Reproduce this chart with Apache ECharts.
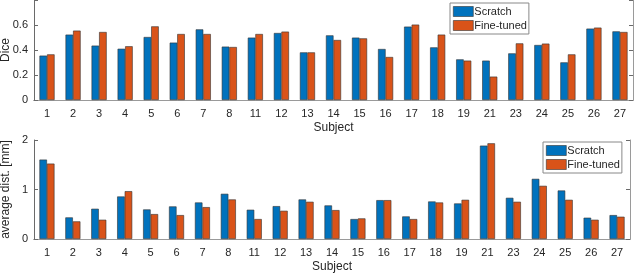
<!DOCTYPE html>
<html><head><meta charset="utf-8">
<script src="https://cdn.jsdelivr.net/npm/echarts@6/dist/echarts.min.js"></script>
<style>html,body{margin:0;padding:0;background:#fff}#c{width:640px;height:274px}</style>
</head><body><div id="c"></div>
<script>
const subjects = ['1','2','3','4','5','6','7','8','11','12','13','14','15','16','17','18','19','21','23','24','25','26','27'];
const diceScratch = [0.355,0.523,0.435,0.41,0.504,0.459,0.565,0.427,0.499,0.536,0.381,0.517,0.499,0.408,0.587,0.421,0.325,0.315,0.373,0.44,0.301,0.571,0.549];
const diceFine    = [0.365,0.555,0.544,0.43,0.589,0.528,0.528,0.424,0.528,0.547,0.381,0.48,0.493,0.344,0.603,0.523,0.315,0.187,0.453,0.451,0.365,0.579,0.544];
const distScratch = [1.604,0.436,0.611,0.859,0.597,0.658,0.738,0.913,0.591,0.664,0.799,0.678,0.403,0.785,0.456,0.758,0.718,1.886,0.832,1.215,0.98,0.43,0.483];
const distFine    = [1.523,0.356,0.389,0.966,0.503,0.483,0.644,0.799,0.403,0.57,0.752,0.584,0.416,0.785,0.403,0.738,0.792,1.933,0.752,1.074,0.792,0.389,0.45];
const seriesNames = ['Scratch','Fine-tuned'];

const axisCol = '#6a6a6a';
const boxCol = '#9a9a9a';
const font = 'Liberation Sans, Arial, Helvetica, sans-serif';
const lab = {color:'#262626', fontSize:11, fontFamily:font};

function xAxes(gi){
  return [
    {type:'category', gridIndex:gi, data:subjects, position:'bottom',
     axisLine:{lineStyle:{color:axisCol,width:1}},
     axisTick:{inside:true, alignWithLabel:true, length:4, lineStyle:{color:axisCol}},
     axisLabel:Object.assign({margin:8}, lab),
     name:'Subject', nameLocation:'middle', nameGap:22, nameMoveOverlap:false,
     nameTextStyle:{color:'#262626', fontSize:12, fontFamily:font}},
    {type:'category', gridIndex:gi, data:subjects, position:'top',
     axisLine:{lineStyle:{color:boxCol,width:1}},
     axisTick:{inside:true, alignWithLabel:true, length:4, lineStyle:{color:axisCol}},
     axisLabel:{show:false}}
  ];
}
function yAxes(gi, max, interval, name, hideTop){
  return [
    {type:'value', gridIndex:gi, min:0, max:max, interval:interval, position:'left',
     splitLine:{show:false},
     axisLine:{show:true, lineStyle:{color:axisCol,width:1}},
     axisTick:{show:true, inside:true, length:4, lineStyle:{color:axisCol}},
     axisLabel:Object.assign({margin:6, formatter:function(v){ if(hideTop && v>=max-1e-9) return ''; return String(+v.toFixed(1)); }}, lab),
     name:name, nameLocation:'middle', nameGap:22, nameMoveOverlap:false,
     nameTextStyle:{color:'#262626', fontSize:12, fontFamily:font}},
    {type:'value', gridIndex:gi, min:0, max:max, interval:interval, position:'right',
     splitLine:{show:false},
     axisLine:{show:true, lineStyle:{color:boxCol,width:1}},
     axisTick:{show:true, inside:true, length:4, lineStyle:{color:axisCol}},
     axisLabel:{show:false}}
  ];
}
function bars(xi, yi, a, b){
  const common = {type:'bar', xAxisIndex:xi, yAxisIndex:yi, barGap:'0%', barCategoryGap:'42%'};
  return [
    Object.assign({name:seriesNames[0], data:a, itemStyle:{color:'#0072BD', borderColor:'#333', borderWidth:0.6}}, common),
    Object.assign({name:seriesNames[1], data:b, itemStyle:{color:'#D95319', borderColor:'#333', borderWidth:0.6}}, common)
  ];
}
const legendBase = {orient:'vertical', itemWidth:20, itemHeight:10, itemGap:3,
  backgroundColor:'#fff', borderColor:'#888', borderWidth:1, padding:[3,2,3,3],
  textStyle:{color:'#262626', fontSize:11, fontFamily:font, padding:[0,0,0,-4]}, icon:'rect',
  itemStyle:{borderColor:'#333', borderWidth:0.6}};

const chart = echarts.init(document.getElementById('c'), null, {renderer:'canvas'});
chart.setOption({
  animation:false,
  grid:[
    {left:34, right:7, top:0, height:100, outerBoundsMode:'none', containLabel:false},
    {left:34, right:10, top:140, height:99, outerBoundsMode:'none', containLabel:false}
  ],
  legend:[
    Object.assign({}, legendBase, {left:450, top:3, data:seriesNames}),
    Object.assign({}, legendBase, {left:543, top:142, data:seriesNames})
  ],
  xAxis:[].concat(xAxes(0), xAxes(1)),
  yAxis:[].concat(yAxes(0, 0.8, 0.2, 'Dice', true), yAxes(1, 2, 1, 'average dist. [mm]', false)),
  series:[].concat(bars(0,0,diceScratch,diceFine), bars(2,2,distScratch,distFine))
});
</script></body></html>
